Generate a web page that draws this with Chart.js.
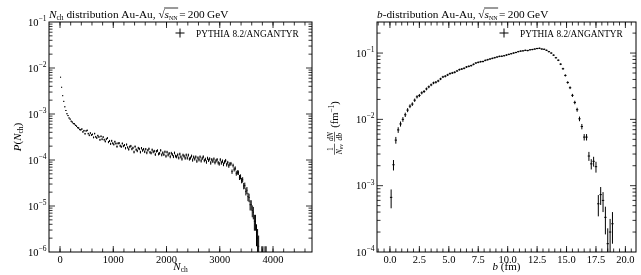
<!DOCTYPE html>
<html>
<head>
<meta charset="utf-8">
<script src="https://cdn.jsdelivr.net/npm/chart.js@4/dist/chart.umd.min.js"></script>
<style>
    html, body { margin: 0; padding: 0; background: #fff; }
    #wrap { position: relative; width: 641px; height: 275px; }
    canvas { position: absolute; top: 0; }
</style>
</head>
<body>
<div id="wrap">
    <canvas id="nchChart" width="320" height="275" style="left:0"></canvas>
    <canvas id="bChart" width="321" height="275" style="left:320px"></canvas>
</div>
<script>
// ---- data (event counts per bin) ----
const nEvents = 75000;

// N_ch histogram, bins of 20 starting at 0
const nchBinWidth = 20;
const nchCounts = [
    9480, 5730, 3745, 2830, 2150, 1790, 1520, 1385, 1230, 1160,
    1045, 1000, 930, 915, 850, 815, 760, 745, 690, 680,
    707, 613, 651, 558, 644, 662, 562, 517, 578, 524,
    541, 465, 563, 480, 453, 508, 476, 412, 491, 425,
    473, 414, 381, 426, 450, 367, 390, 337, 392, 347,
    328, 375, 342, 294, 345, 350, 306, 292, 343, 301,
    316, 271, 326, 282, 256, 292, 302, 260, 275, 224,
    294, 252, 237, 273, 261, 223, 271, 242, 258, 227,
    258, 215, 244, 263, 221, 213, 250, 225, 234, 198,
    232, 241, 203, 210, 243, 194, 216, 197, 226, 182,
    223, 193, 209, 177, 211, 197, 178, 214, 183, 176,
    195, 167, 202, 176, 158, 192, 182, 165, 193, 166,
    192, 158, 166, 183, 150, 174, 158, 175, 142, 167,
    152, 175, 144, 163, 176, 146, 156, 136, 164, 148,
    159, 130, 153, 141, 158, 132, 145, 153, 131, 124,
    152, 130, 142, 121, 136, 146, 119, 132, 112, 123,
    125, 84, 114, 94, 99, 77, 81, 80, 63, 65,
    54, 56, 41, 42, 31, 33, 24, 23, 16, 16,
    12, 11, 7, 7, 4, 3, 2, 0, 0, 1,
    1, 0, 1, 1, 0
];
const nchTicks = [0, 1000, 2000, 3000, 4000];
const nchDecades = [-6, -5, -4, -3, -2, -1];

// impact parameter histogram, bins of 0.2 fm starting at 0
const bBinWidth = 0.2;
const bCounts = [
    10, 31, 73, 104, 128, 150, 176, 207, 237, 255,
    292, 328, 344, 377, 395, 432, 464, 497, 532, 545,
    570, 611, 655, 671, 702, 735, 752, 770, 806, 843,
    862, 884, 925, 947, 969, 1014, 1062, 1086, 1111, 1118,
    1164, 1191, 1220, 1248, 1277, 1307, 1337, 1343, 1368, 1400,
    1433, 1466, 1500, 1530, 1575, 1605, 1620, 1650, 1635, 1680,
    1695, 1725, 1755, 1770, 1725, 1710, 1650, 1575, 1500, 1395,
    1275, 1170, 1020, 870, 690, 540, 450, 345, 270, 210,
    153, 117, 81, 81, 42, 32, 35, 29, 8, 11,
    9, 5, 2, 3, 4
];
const bTicks = [0, 2.5, 5, 7.5, 10, 12.5, 15, 17.5, 20];
const bDecades = [-4, -3, -2, -1];

const legendLabel = 'PYTHIA 8.2/ANGANTYR';

// ---- text helpers ----
const SERIF = '"Liberation Serif", "DejaVu Serif", serif';

function setFont(ctx, p) {
    ctx.font = (p.italic ? 'italic ' : '') + p.size + 'px ' + SERIF;
}
function runWidth(ctx, pieces) {
    let w = 0;
    for (const p of pieces) { setFont(ctx, p); w += ctx.measureText(p.text).width + (p.gap || 0); }
    return w;
}
function drawRun(ctx, x, y, pieces) {
    for (const p of pieces) {
        setFont(ctx, p);
        ctx.fillText(p.text, x, y + (p.dy || 0));
        x += ctx.measureText(p.text).width + (p.gap || 0);
    }
    return x;
}

function drawTitle(ctx, x, y, pieces) {
    x = drawRun(ctx, x, y, pieces);
    setFont(ctx, { size: 11.3 });
    ctx.fillText('\u221A', x, y);
    const sx = x + ctx.measureText('\u221A').width;
    const ex = drawRun(ctx, sx, y, [{ text: 's', size: 11.3, italic: true }, { text: 'NN', size: 6, dy: 2 }]);
    ctx.lineWidth = 0.8;
    ctx.beginPath();
    ctx.moveTo(sx - 0.5, y - 9.5);
    ctx.lineTo(ex + 0.5, y - 9.5);
    ctx.stroke();
    drawRun(ctx, ex + 1.5, y, [{ text: '=\u2009200\u2009GeV', size: 11.3 }]);
}

function drawFraction(ctx, x, num, den) {
    const nw = runWidth(ctx, num), dw = runWidth(ctx, den);
    const w = Math.max(nw, dw) + 1;
    drawRun(ctx, x + (w - nw) / 2, -5.5, num);
    drawRun(ctx, x + (w - dw) / 2, 4, den);
    ctx.lineWidth = 0.6;
    ctx.beginPath();
    ctx.moveTo(x, -3.5);
    ctx.lineTo(x + w, -3.5);
    ctx.stroke();
    return x + w;
}

// ---- drawing plugin ----
function drawErrorBars(chart, cfg) {
    const ctx = chart.ctx, a = chart.chartArea;
    const xs = chart.scales.x, ys = chart.scales.y;
    const meta = chart.getDatasetMeta(0);
    const pts = chart.data.datasets[0].data;
    const w = cfg.binWidth;
    ctx.save();
    ctx.beginPath();
    ctx.rect(a.left, a.top, a.right - a.left, a.bottom - a.top);
    ctx.clip();
    ctx.strokeStyle = '#000';
    ctx.lineWidth = 1;
    ctx.beginPath();
    meta.data.forEach((el, i) => {
        const p = pts[i];
        const err = Math.sqrt(p.n) / (nEvents * w);
        const yHi = ys.getPixelForValue(p.y + err);
        const lo = p.y - err;
        const yLo = lo > ys.min ? ys.getPixelForValue(lo) : a.bottom + 2;
        ctx.moveTo(el.x, yHi);
        ctx.lineTo(el.x, yLo);
        if (p.y > ys.min) {
            ctx.moveTo(xs.getPixelForValue(p.x - w / 2), el.y);
            ctx.lineTo(xs.getPixelForValue(p.x + w / 2), el.y);
        }
    });
    ctx.stroke();
    ctx.restore();
}

function drawFrame(chart, cfg) {
    const ctx = chart.ctx, a = chart.chartArea;
    const xs = chart.scales.x, ys = chart.scales.y;
    ctx.save();
    ctx.strokeStyle = '#000';
    ctx.lineWidth = 0.8;
    ctx.beginPath();
    const xTick = (v, len) => {
        const px = xs.getPixelForValue(v);
        if (px < a.left + 0.5 || px > a.right - 0.5) return;
        ctx.moveTo(px, a.bottom); ctx.lineTo(px, a.bottom - len);
        ctx.moveTo(px, a.top); ctx.lineTo(px, a.top + len);
    };
    const yTick = (v, len) => {
        const py = ys.getPixelForValue(v);
        if (py < a.top + 0.5 || py > a.bottom - 0.5) return;
        ctx.moveTo(a.left, py); ctx.lineTo(a.left + len, py);
        ctx.moveTo(a.right, py); ctx.lineTo(a.right - len, py);
    };
    for (let v = cfg.xMinorFrom; v <= xs.max; v += cfg.xMinorStep) xTick(v, 3.5);
    cfg.xTicks.forEach(v => xTick(v, 6));
    const d0 = cfg.yDecades[0] - 1, d1 = cfg.yDecades[cfg.yDecades.length - 1];
    for (let d = d0; d <= d1; d++) {
        for (let k = 2; k <= 9; k++) yTick(k * Math.pow(10, d), 3.5);
    }
    cfg.yDecades.forEach(d => yTick(Math.pow(10, d), 6));
    ctx.stroke();
    ctx.lineWidth = 1;
    ctx.strokeRect(a.left, a.top, a.right - a.left, a.bottom - a.top);
    ctx.restore();
}

function drawLabels(chart, cfg) {
    const ctx = chart.ctx, a = chart.chartArea;
    const xs = chart.scales.x, ys = chart.scales.y;
    ctx.save();
    ctx.fillStyle = '#000';
    ctx.strokeStyle = '#000';
    ctx.textBaseline = 'alphabetic';

    // x tick labels
    ctx.textAlign = 'center';
    setFont(ctx, { size: 10.5 });
    cfg.xTicks.forEach((v, i) => ctx.fillText(cfg.xTickLabels[i], xs.getPixelForValue(v), a.bottom + 10.5));

    // y tick labels 10^-n
    ctx.textAlign = 'left';
    cfg.yDecades.forEach(d => {
        const py = ys.getPixelForValue(Math.pow(10, d));
        const pieces = [{ text: '10', size: 10.5 }, { text: '\u2212' + (-d), size: 7.5, dy: -4.5 }];
        drawRun(ctx, a.left - 2.5 - runWidth(ctx, pieces), py + 3.5, pieces);
    });

    // x axis title
    const xw = runWidth(ctx, cfg.xLabel);
    drawRun(ctx, (a.left + a.right) / 2 - xw / 2, 270, cfg.xLabel);

    // y axis title (rotated)
    ctx.save();
    ctx.translate(cfg.yLabelX, cfg.yLabelY);
    ctx.rotate(-Math.PI / 2);
    cfg.drawYLabel(ctx);
    ctx.restore();

    // title
    drawTitle(ctx, a.left, 17.5, cfg.title);

    // legend
    const mx = cfg.legendX, my = 33;
    ctx.lineWidth = 1;
    ctx.beginPath();
    ctx.moveTo(mx - 4.5, my); ctx.lineTo(mx + 4.5, my);
    ctx.moveTo(mx, my - 4.5); ctx.lineTo(mx, my + 4.5);
    ctx.stroke();
    drawRun(ctx, mx + 16, 36.5, [{ text: legendLabel, size: 9.3 }]);
    ctx.restore();
}

function hepPlugin(cfg) {
    return {
        id: 'hep',
        afterDatasetsDraw(chart) { drawErrorBars(chart, cfg); },
        afterDraw(chart) { drawFrame(chart, cfg); drawLabels(chart, cfg); }
    };
}

function histPoints(counts, width) {
    return counts
        .map((n, i) => ({ x: (i + 0.5) * width, y: n / (nEvents * width), n: n }))
        .filter(p => p.n > 0);
}

function makePanel(id, cfg) {
    return new Chart(document.getElementById(id), {
        type: 'scatter',
        data: {
            datasets: [{
                data: histPoints(cfg.counts, cfg.binWidth),
                pointRadius: 0,
                pointHoverRadius: 0,
                showLine: false
            }]
        },
        options: {
            responsive: false,
            animation: false,
            events: [],
            layout: { padding: cfg.padding },
            scales: {
                x: { type: 'linear', min: cfg.xMin, max: cfg.xMax, display: false },
                y: { type: 'logarithmic', min: cfg.yMin, max: cfg.yMax, display: false }
            },
            plugins: {
                legend: { display: false },
                tooltip: { enabled: false }
            }
        },
        plugins: [hepPlugin(cfg)]
    });
}

// left panel: N_ch distribution
makePanel('nchChart', {
    counts: nchCounts,
    binWidth: nchBinWidth,
    padding: { left: 49, right: 8, top: 22, bottom: 23 },
    xMin: -207, xMax: 4732,
    yMin: 1e-6, yMax: 1e-1,
    xTicks: nchTicks,
    xTickLabels: nchTicks.map(String),
    xMinorFrom: -200, xMinorStep: 200,
    yDecades: nchDecades,
    title: [{ text: 'N', size: 11.3, italic: true }, { text: 'ch', size: 7.5, dy: 2 },
            { text: ' distribution Au-Au, ', size: 11.3 }],
    xLabel: [{ text: 'N', size: 11, italic: true }, { text: 'ch', size: 7.5, dy: 2 }],
    yLabelX: 17, yLabelY: 137,
    drawYLabel(ctx) {
        const pieces = [{ text: 'P', size: 11, italic: true }, { text: '(', size: 11 },
                        { text: 'N', size: 11, italic: true }, { text: 'ch', size: 7.5, dy: 2 },
                        { text: ')', size: 11 }];
        drawRun(ctx, -runWidth(ctx, pieces) / 2, 4, pieces);
    },
    legendX: 180
});

// right panel: impact parameter distribution
makePanel('bChart', {
    counts: bCounts,
    binWidth: bBinWidth,
    padding: { left: 57, right: 5, top: 22, bottom: 23 },
    xMin: -1.1, xMax: 20.9,
    yMin: 1e-4, yMax: 0.294,
    xTicks: bTicks,
    xTickLabels: bTicks.map(v => v.toFixed(1)),
    xMinorFrom: -1, xMinorStep: 0.5,
    yDecades: bDecades,
    title: [{ text: 'b', size: 11.3, italic: true }, { text: '-distribution Au-Au, ', size: 11.3 }],
    xLabel: [{ text: 'b', size: 11, italic: true }, { text: ' (fm)', size: 11 }],
    yLabelX: 18, yLabelY: 128,
    drawYLabel(ctx) {
        const num1 = [{ text: '1', size: 7.5 }];
        const den1 = [{ text: 'N', size: 7.5, italic: true }, { text: 'ev', size: 5.5, dy: 1.2 }];
        const num2 = [{ text: 'dN', size: 7.5, italic: true }];
        const den2 = [{ text: 'db', size: 7.5, italic: true }];
        const unit = [{ text: '(fm', size: 10.5 }, { text: '\u22121', size: 7.5, dy: -4 }, { text: ')', size: 10.5 }];
        const f1 = Math.max(runWidth(ctx, num1), runWidth(ctx, den1)) + 1;
        const f2 = Math.max(runWidth(ctx, num2), runWidth(ctx, den2)) + 1;
        const total = f1 + 2 + f2 + 4 + runWidth(ctx, unit);
        let x = -total / 2;
        x = drawFraction(ctx, x, num1, den1) + 2;
        x = drawFraction(ctx, x, num2, den2) + 4;
        drawRun(ctx, x, 0, unit);
    },
    legendX: 184
});
</script>
</body>
</html>
